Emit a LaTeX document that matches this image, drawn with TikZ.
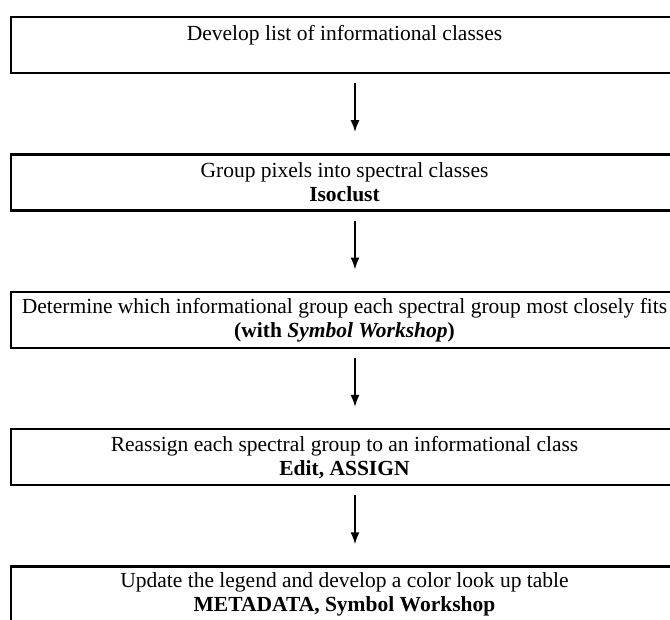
\documentclass[tikz,border=0pt]{standalone}
\usepackage{fontspec}
\setmainfont{Liberation Serif}
\usepackage{tikz}
\usetikzlibrary{arrows.meta, positioning}

\tikzset{
  stage/.style = {draw, line width=2.4pt, rectangle, align=center,
    minimum width=667pt, minimum height=56pt, inner sep=4pt,
    font=\fontsize{21.5}{24}\selectfont},
  flow/.style = {->, line width=2pt, shorten <=9pt, shorten >=21pt}
}

\begin{document}
\begin{tikzpicture}[x=1pt, y=-1pt, >={Latex[length=12pt,width=9pt]}]

\useasboundingbox (0,0) rectangle (670,620);
\clip (0,0) rectangle (670,620);

\node[stage] (develop) at (344.5,45) {Develop list of informational classes\\ \mbox{}};

\node[stage, below = 79pt of develop] (group) {Group pixels into spectral classes\\ \textbf{Isoclust}};

\node[stage, below = 79pt of group] (determine) {Determine which informational group each spectral group most closely fits\\ \textbf{(with \textit{Symbol Workshop})}};

\node[stage, below = 79pt of determine] (reassign) {Reassign each spectral group to an informational class\\ \textbf{Edit, ASSIGN}};

\node[stage, below = 79pt of reassign] (update) {Update the legend and develop a color look up table\\ \textbf{METADATA, Symbol Workshop}};

\draw[flow] ([xshift=10.5pt]develop.south) -- ([xshift=10.5pt]group.north);
\draw[flow] ([xshift=10.5pt]group.south) -- ([xshift=10.5pt]determine.north);
\draw[flow] ([xshift=10.5pt]determine.south) -- ([xshift=10.5pt]reassign.north);
\draw[flow] ([xshift=10.5pt]reassign.south) -- ([xshift=10.5pt]update.north);

\end{tikzpicture}
\end{document}
